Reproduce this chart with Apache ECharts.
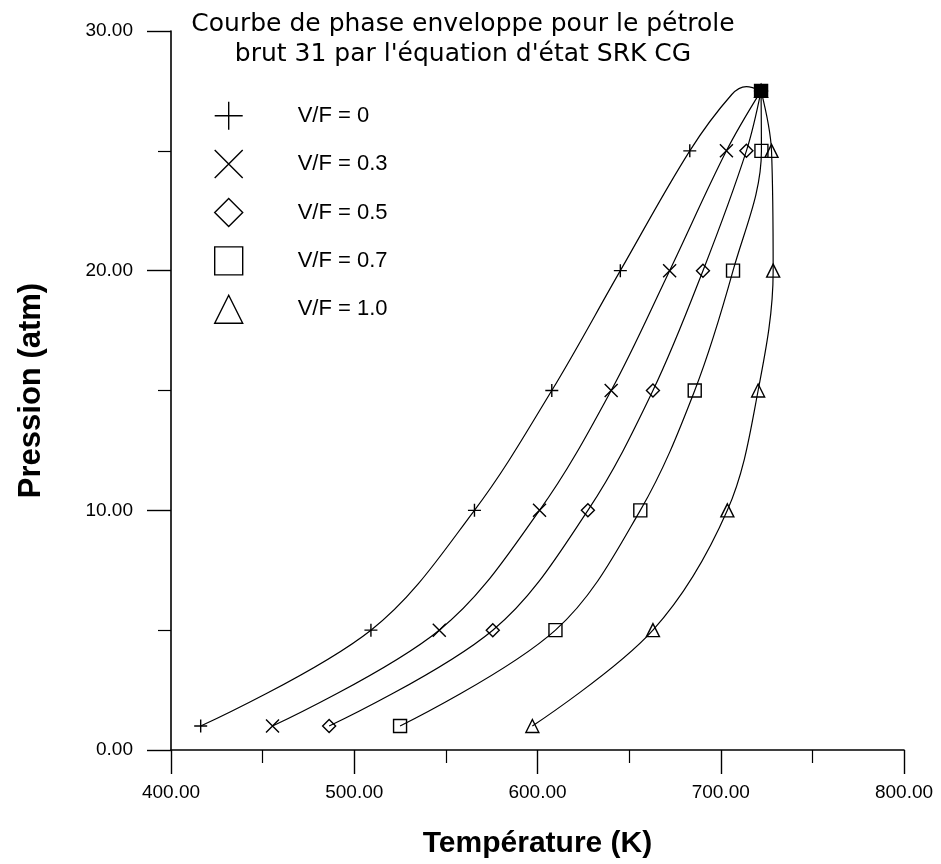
<!DOCTYPE html>
<html>
<head>
<meta charset="utf-8">
<script src="https://cdn.jsdelivr.net/npm/echarts@6/dist/echarts.min.js"></script>
<style>
  html, body { margin: 0; padding: 0; background: #fff; }
  #chart { width: 941px; height: 864px; }
</style>
</head>
<body>
<div id="chart"></div>
<script>
// Phase envelope of crude oil 31 (SRK CG equation of state)
// Temperatures in K at each pressure level (atm); the last point of every
// curve is the critical point where all quality lines meet.
const pressures = [1, 5, 10, 15, 20, 25];
const critical = [722, 27.5];

const tempVF0  = [416.2, 509.1, 565.6, 607.8, 645.2, 683.1];
const tempVF03 = [455.4, 546.4, 601.1, 640.2, 672.1, 703.1];
const tempVF05 = [486.3, 575.6, 627.5, 663.0, 690.3, 714.0];
const tempVF07 = [525.0, 609.8, 656.1, 685.8, 706.7, 722.2];
const tempVF10 = [597.2, 663.0, 703.6, 720.4, 728.6, 727.7];

// Bubble curve shape between the 25 atm point and the critical point
const bubbleTopT = [706.0, 714.0];
const bubbleTopP = [27.35, 27.68];

const seriesNames = ['V/F = 0', 'V/F = 0.3', 'V/F = 0.5', 'V/F = 0.7', 'V/F = 1.0'];
const xTicks = [400, 500, 600, 700, 800];
const yTicks = [0, 10, 20, 30];

const PLUS = 'path://M0,5H10M5,0V10';
const CROSS = 'path://M0,0L10,10M10,0L0,10';
const symbols = [PLUS, CROSS, 'diamond', 'rect', 'triangle'];

function buildCurve(temps, extraT, extraP, critStyle) {
  const pts = temps.map((t, i) => ({ value: [t, pressures[i]] }));
  if (extraT) {
    extraT.forEach((t, i) => pts.push({ value: [t, extraP[i]], symbol: 'none' }));
  }
  const crit = { value: critical.slice() };
  if (critStyle) Object.assign(crit, critStyle);
  pts.push(crit);
  return pts;
}

// the markers piled up on the critical point read as one solid square
const critSolid = { itemStyle: { color: '#000', borderColor: '#000' } };

const curves = [
  buildCurve(tempVF0, bubbleTopT, bubbleTopP),
  buildCurve(tempVF03),
  buildCurve(tempVF05),
  buildCurve(tempVF07, null, null, critSolid),
  buildCurve(tempVF10)
];

const symbolStyle = {
  color: 'rgba(0,0,0,0)',
  borderColor: '#000',
  borderWidth: 1.4
};

const series = curves.map((data, i) => ({
  name: seriesNames[i],
  type: 'line',
  data: data,
  smooth: 0.35,
  symbol: symbols[i],
  symbolSize: 13,
  showAllSymbol: true,
  lineStyle: { color: '#000', width: 1.2 },
  itemStyle: symbolStyle,
  emphasis: { disabled: true },
  animation: false,
  z: i === 3 ? 3 : 2
}));

const chart = echarts.init(document.getElementById('chart'), null, { renderer: 'canvas' });

const labelFont = '"Liberation Sans", Arial, sans-serif';

chart.setOption({
  backgroundColor: '#fff',
  animation: false,
  grid: { left: 171, right: 37, top: 31, bottom: 101, containLabel: false },
  graphic: [{
    type: 'text',
    x: 463,
    y: 9,
    style: {
      text: 'Courbe de phase enveloppe pour le pétrole\nbrut 31 par l\'équation d\'état SRK CG',
      align: 'center',
      font: '25px "DejaVu Sans", sans-serif',
      lineHeight: 30,
      fill: '#000'
    }
  }],
  legend: {
    orient: 'vertical',
    left: 214,
    top: 101,
    padding: 0,
    itemWidth: 28,
    itemHeight: 28,
    itemGap: 19,
    selectedMode: false,
    data: seriesNames.map((n, i) => ({
      name: n,
      icon: symbols[i],
      itemStyle: { color: 'rgba(0,0,0,0)', borderColor: '#000', borderWidth: 1.4 }
    })),
    textStyle: {
      fontFamily: labelFont,
      fontSize: 22,
      color: '#000',
      padding: [0, 0, 0, 50]
    }
  },
  xAxis: {
    type: 'value',
    min: 400,
    max: 800,
    interval: 100,
    name: 'Température (K)',
    nameLocation: 'middle',
    nameGap: 79,
    nameTextStyle: {
      fontFamily: labelFont,
      fontSize: 30,
      fontWeight: 'bold',
      color: '#000'
    },
    axisLine: { show: true, onZero: false, lineStyle: { color: '#000', width: 1.6 } },
    axisTick: { show: true, inside: false, length: 24, lineStyle: { color: '#000', width: 1.4 } },
    minorTick: { show: true, splitNumber: 2, length: 13, lineStyle: { color: '#000', width: 1.2 } },
    axisLabel: {
      margin: 33,
      fontFamily: labelFont,
      fontSize: 19,
      color: '#000',
      formatter: v => xTicks.includes(v) ? v.toFixed(2) : ''
    },
    splitLine: { show: false }
  },
  yAxis: {
    type: 'value',
    min: 0,
    max: 30,
    interval: 10,
    name: 'Pression (atm)',
    nameLocation: 'middle',
    nameGap: 124,
    nameRotate: 90,
    nameTextStyle: {
      fontFamily: labelFont,
      fontSize: 31,
      fontWeight: 'bold',
      color: '#000'
    },
    axisLine: { show: true, onZero: false, lineStyle: { color: '#000', width: 1.6 } },
    axisTick: { show: true, inside: false, length: 24, lineStyle: { color: '#000', width: 1.4 } },
    minorTick: { show: true, splitNumber: 2, length: 13, lineStyle: { color: '#000', width: 1.2 } },
    axisLabel: {
      margin: 38,
      fontFamily: labelFont,
      fontSize: 19,
      color: '#000',
      formatter: v => yTicks.includes(v) ? v.toFixed(2) : ''
    },
    splitLine: { show: false }
  },
  series: series
});
</script>
</body>
</html>
